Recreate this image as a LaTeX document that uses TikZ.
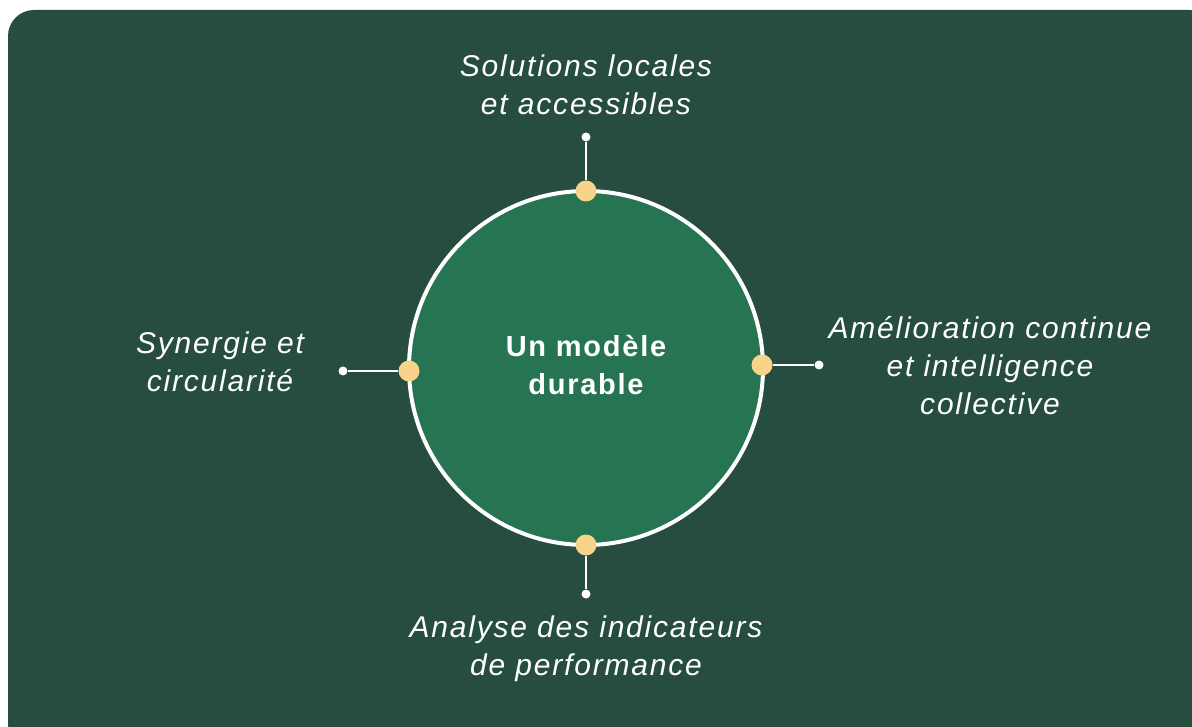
\documentclass[tikz,border=0pt]{standalone}
\usepackage{fontspec}
\setmainfont[LetterSpace=6]{Liberation Sans}
\usetikzlibrary{positioning}
\definecolor{bgcol}{HTML}{264D3F}
\definecolor{circcol}{HTML}{277452}
\definecolor{dotcol}{HTML}{F8D48A}
\tikzset{
  label text/.style={text=white,align=center,font=\fontsize{30}{38}\selectfont\itshape},
  big dot/.style={circle,fill=dotcol,inner sep=0pt,minimum size=21pt},
  end dot/.style={circle,fill=white,inner sep=0pt,minimum size=9pt},
  stem/.style={draw=white,line width=2pt},
}
\begin{document}
\begin{tikzpicture}[x=1pt,y=-1pt]
  \useasboundingbox (0,0) rectangle (1192,727);
  % Background
  \fill [bgcol,rounded corners=26pt] (8,10) rectangle (1215,750);
  % Node: centre
  \draw [white,line width=4pt,fill=circcol] (586,368) circle (177);
  \node (centre) at (586,365) [text=white,align=center,font=\fontsize{29}{38}\selectfont\bfseries] {Un modèle\\durable};
  % Node: top
  \node (top) at (586,191) [big dot] {};
  \node (topend) at (586,137) [end dot] {};
  \draw [stem] (top) -- (topend);
  \node (toptext) at (586,85) [label text] {Solutions locales\\et accessibles};
  % Node: bottom
  \node (bot) at (586,545) [big dot] {};
  \node (botend) at (586,594) [end dot] {};
  \draw [stem] (bot) -- (botend);
  \node (bottext) at (586,649) [label text] {Analyse des indicateurs\\de performance};
  % Node: left
  \node (left) at (409,371) [big dot] {};
  \node (leftend) at (343,371) [end dot] {};
  \draw [stem] (left) -- (leftend);
  \node (lefttext) at (220,362) [label text] {Synergie et\\circularité};
  % Node: right
  \node (right) at (762,365) [big dot] {};
  \node (rightend) at (819,365) [end dot] {};
  \draw [stem] (right) -- (rightend);
  \node (righttext) at (990,366) [label text] {Amélioration continue\\et intelligence\\collective};
%
\end{tikzpicture}
\end{document}
